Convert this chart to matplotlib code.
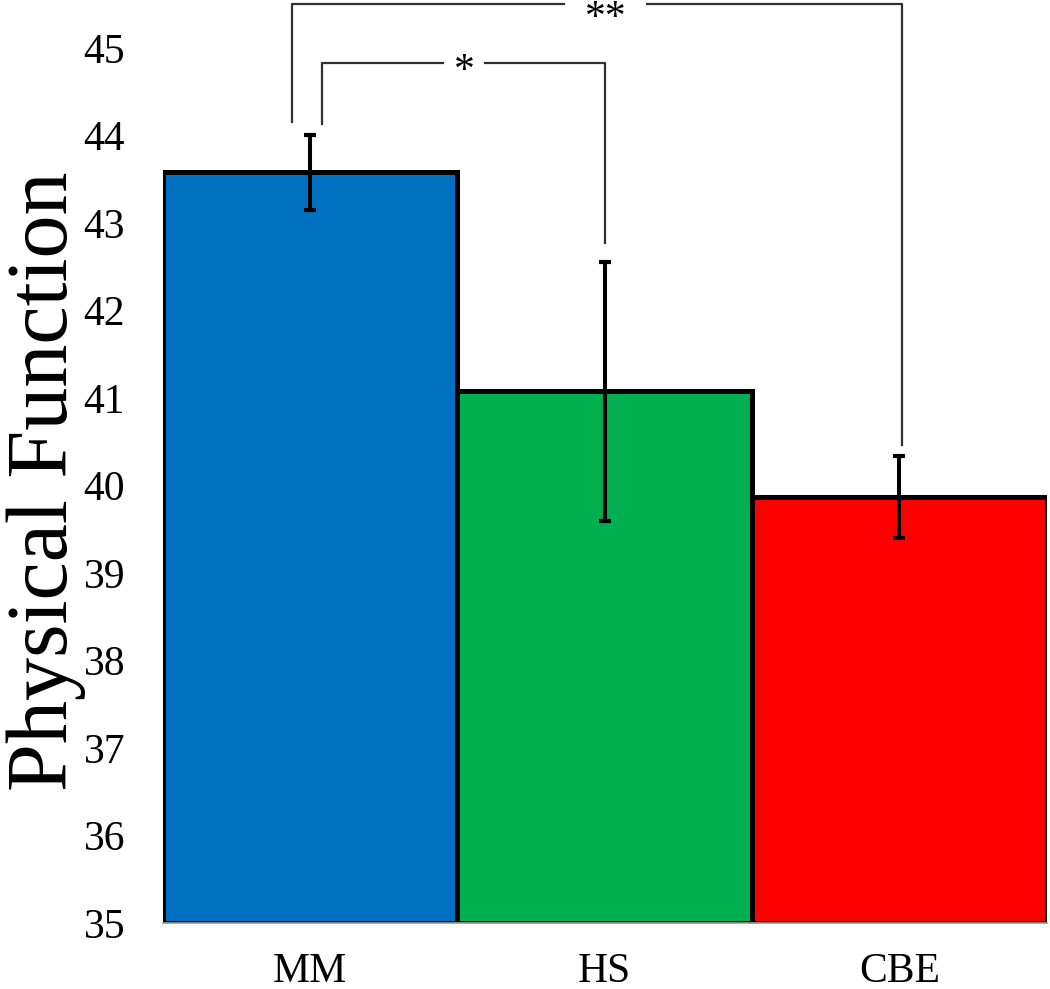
import matplotlib
matplotlib.use("Agg")
import matplotlib.pyplot as plt

plt.rcParams['font.family'] = ['Liberation Serif', 'DejaVu Serif']

# Data
groups = ["MM", "HS", "CBE"]
means = [43.58, 41.08, 39.87]
errors = [0.43, 1.48, 0.47]
colors = ["#0070C0", "#00B050", "#FF0000"]

# Significance brackets:
# (left bar, right bar, top y, left leg end, right leg end, leg x offsets,
#  label, label x, label y, half gap in line)
brackets = [
    (0, 2, 45.50, 44.15, 40.46, (-0.06, 0.01), "**", 1.003, 45.33, 0.141),
    (0, 1, 44.83, 44.13, 42.77, (0.04, 0.0), "*", 0.523, 44.73, 0.071),
]

fig = plt.figure(figsize=(10.5, 9.89), dpi=100)
ax = fig.add_axes([0.155, 0.0667, 0.842, 0.8847])

x = list(range(len(groups)))
ax.bar(x, [m - 35 for m in means], bottom=35, width=1.0, color=colors,
       edgecolor="black", linewidth=3.6, zorder=2)
ax.errorbar(x, means, yerr=errors, fmt="none", ecolor="black",
            elinewidth=2.9, capsize=4, capthick=3, zorder=3)

for i0, i1, ytop, yl, yr, (dl, dr), lab, lx, ly, gap in brackets:
    xl = i0 + dl
    xr = i1 + dr
    ax.plot([xl, xl, lx - gap], [yl, ytop, ytop], color="#303030",
            lw=1.6, clip_on=False, zorder=1)
    ax.plot([lx + gap, xr, xr], [ytop, ytop, yr], color="#303030",
            lw=1.6, clip_on=False, zorder=1)
    ax.text(lx, ly, lab, ha="center", va="center", fontsize=30,
            clip_on=False, zorder=4)

ax.set_xlim(-0.5, 2.5)
ax.set_ylim(35, 45)
ax.set_yticks(range(35, 46))
ax.set_xticks(x)
ax.set_xticklabels(groups)
ax.tick_params(axis="both", length=0, labelsize=30)
ax.tick_params(axis="y", pad=27)
ax.tick_params(axis="x", pad=21)

for s in ["left", "right", "top"]:
    ax.spines[s].set_visible(False)
ax.spines["bottom"].set_color("#999999")
ax.spines["bottom"].set_linewidth(1.2)

ax.set_ylabel("Physical Function", fontsize=62)
ax.yaxis.set_label_coords(-0.087, 0.505)

fig.savefig("out.png", dpi=100)
